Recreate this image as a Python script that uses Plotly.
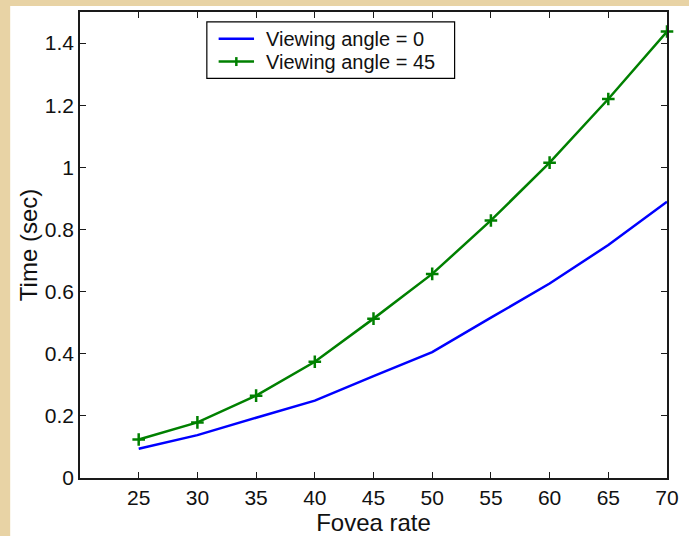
import plotly.graph_objects as go

fovea_rate = [25, 30, 35, 40, 45, 50, 55, 60, 65, 70]
time_angle_0 = [0.094, 0.138, 0.194, 0.249, 0.328, 0.405, 0.516, 0.626, 0.75, 0.889]
time_angle_45 = [0.124, 0.179, 0.265, 0.374, 0.513, 0.657, 0.829, 1.015, 1.22, 1.437]
x_ticks = [25, 30, 35, 40, 45, 50, 55, 60, 65, 70]
y_ticks = [0, 0.2, 0.4, 0.6, 0.8, 1.0, 1.2, 1.4]
y_tick_labels = ["0", "0.2", "0.4", "0.6", "0.8", "1", "1.2", "1.4"]
series_names = ["Viewing angle = 0", "Viewing angle = 45"]
series_colors = ["#0000FF", "#008000"]

# plot-area geometry in pixels (for converting decoration positions to paper coords)
W, H = 689, 536
ML, MR, MT, MB = 80, 12, 10, 56
PW, PH = W - ML - MR, H - MT - MB


def px(x):
    return (x - ML) / PW


def py(y):
    return (H - MB - y) / PH


fig = go.Figure()
fig.add_trace(go.Scatter(
    x=fovea_rate, y=time_angle_0, mode="lines", name=series_names[0],
    line=dict(color=series_colors[0], width=2.5), cliponaxis=False,
))
fig.add_trace(go.Scatter(
    x=fovea_rate, y=time_angle_45, mode="lines+markers", name=series_names[1],
    line=dict(color=series_colors[1], width=2.5), cliponaxis=False,
    marker=dict(symbol="cross-thin", size=9, color=series_colors[1],
                line=dict(color=series_colors[1], width=2.5)),
))

font_family = "Liberation Sans, Arial, sans-serif"
axis_common = dict(
    showline=True, linecolor="#1a1a1a", linewidth=1.5, mirror="ticks",
    ticks="inside", ticklen=6, tickcolor="#1a1a1a", tickwidth=1,
    showgrid=False, zeroline=False,
    tickfont=dict(family=font_family, size=21, color="#111"),
)

# legend box drawn as decoration (compact MATLAB-style legend)
box_l, box_r, box_t, box_b = 209, 461, 20, 77
row_y = [37.0, 60.0]
shapes = [
    dict(type="rect", xref="paper", yref="paper",
         x0=px(9), x1=1.05, y0=-0.2, y1=py(4),
         fillcolor="white", line=dict(width=0), layer="below"),
    dict(type="rect", xref="paper", yref="paper",
         x0=px(box_l), x1=px(box_r), y0=py(box_b), y1=py(box_t),
         fillcolor="white", line=dict(color="black", width=1.2), layer="above"),
]
annotations = []
for i, (name, col) in enumerate(zip(series_names, series_colors)):
    shapes.append(dict(type="line", xref="paper", yref="paper",
                       x0=px(221), x1=px(257), y0=py(row_y[i]), y1=py(row_y[i]),
                       line=dict(color=col, width=2.5), layer="above"))
    annotations.append(dict(xref="paper", yref="paper", x=px(268), y=py(row_y[i]),
                            xanchor="left", yanchor="middle", showarrow=False,
                            borderpad=0,
                            text=name, font=dict(family=font_family, size=20, color="#111")))
# plus marker on the second legend row
cx, cy, hs = 239, row_y[1], 4.5
shapes.append(dict(type="line", xref="paper", yref="paper",
                   x0=px(cx), x1=px(cx), y0=py(cy - hs), y1=py(cy + hs),
                   line=dict(color=series_colors[1], width=2.5), layer="above"))

fig.update_layout(
    width=W, height=H,
    margin=dict(l=ML, r=MR, t=MT, b=MB),
    paper_bgcolor="#E8D3A5",
    plot_bgcolor="white",
    showlegend=False,
    xaxis=dict(
        range=[20, 70], tickvals=x_ticks,
        title=dict(text="Fovea rate", font=dict(family=font_family, size=24, color="#111"), standoff=0),
        **axis_common,
    ),
    yaxis=dict(
        range=[0, 1.5], tickvals=y_ticks, ticktext=y_tick_labels,
        title=dict(text="Time (sec)", font=dict(family=font_family, size=24, color="#111"), standoff=0),
        **axis_common,
    ),
    shapes=shapes,
    annotations=annotations,
)

fig.write_html("out.html")
